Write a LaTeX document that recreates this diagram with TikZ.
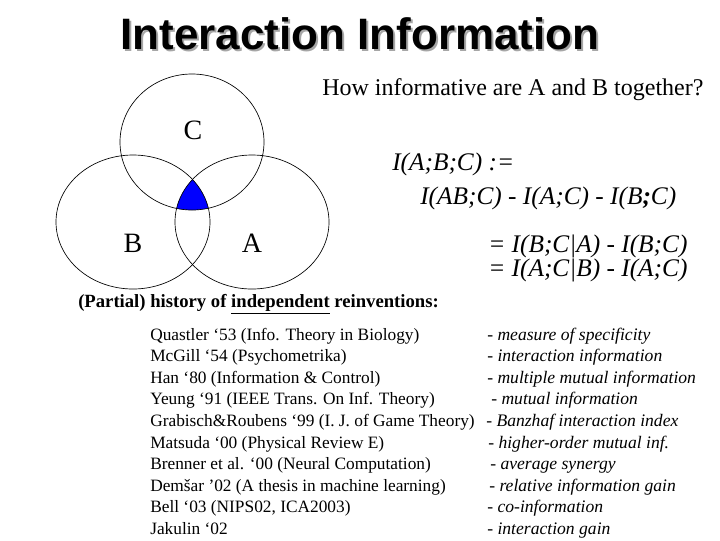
\documentclass[tikz,border=0pt]{standalone}
\usepackage{fontspec}
\setmainfont{Liberation Serif}
\newfontfamily\titlefont{Liberation Sans}
\begin{document}
\begin{tikzpicture}[x=0.75pt,y=-0.75pt,
  venn/.style={draw=black,line width=0.5pt},
  lbl/.style={font=\fontsize{21}{23}\selectfont,inner sep=0},
  eq/.style={font=\fontsize{19}{22}\selectfont\itshape,anchor=base west,inner sep=0},
  lft/.style={font=\fontsize{13}{15}\selectfont,anchor=base west,inner sep=0},
  rgt/.style={font=\fontsize{13.2}{15}\selectfont\itshape,anchor=base west,inner sep=0}]
\useasboundingbox (0,0) rectangle (720,540);
\fill[white] (0,0) rectangle (720,540);
% title
\node[font=\titlefont\bfseries\fontsize{33}{36}\selectfont,text=gray!70,inner sep=0] at (362,36) {Interaction Information};
\node[font=\titlefont\bfseries\fontsize{33}{36}\selectfont,inner sep=0] (title) at (360,34) {Interaction Information};
% venn
\begin{scope}
\clip (192,142) ellipse [x radius=72,y radius=68];
\clip (133,222) ellipse [x radius=77,y radius=67];
\fill[blue] (252,222) ellipse [x radius=77,y radius=67];
\end{scope}
\draw[venn] (192,142) ellipse [x radius=72,y radius=68];
\draw[venn] (133,222) ellipse [x radius=77,y radius=67];
\draw[venn] (252,222) ellipse [x radius=77,y radius=67];
\node[lbl] (C) at (193,130) {C};
\node[lbl] (B) at (133,243) {B};
\node[lbl] (A) at (252,243) {A};
% formulas
\node[font=\fontsize{18}{20}\selectfont,anchor=base west,inner sep=0] (q) at (322,95) {How informative are A and B together?};
\node[eq] (e1) at (392,170) {I(A;B;C) :=};
\node[eq] (e2) at (420,204) {I(AB;C) - I(A;C) - I(B\textbf{;}C)};
\node[eq] (e3) at (488,252) {= I(B;C|A) - I(B;C)};
\node[eq] (e4) at (488,276) {= I(A;C|B) - I(A;C)};
% list
\node[lft,font=\fontsize{14}{16}\selectfont\bfseries] (h) at (78,307) {(Partial) history of \underline{independent} reinventions:};
\foreach \l/\r/\rx [count=\i] in {
 {Quastler `53 (Info. Theory in Biology)}/{measure of specificity}/487,
 {McGill `54 (Psychometrika)}/{interaction information}/487,
 {Han `80 (Information \& Control)}/{multiple mutual information}/487,
 {Yeung `91 (IEEE Trans. On Inf. Theory)}/{mutual information}/491,
 {Grabisch\&Roubens `99 (I. J. of Game Theory)}/{Banzhaf interaction index}/486,
 {Matsuda `00 (Physical Review E)}/{higher-order mutual inf.}/488,
 {Brenner et al. `00 (Neural Computation)}/{average synergy}/490,
 {Demšar '02 (A thesis in machine learning)}/{relative information gain}/489,
 {Bell `03 (NIPS02, ICA2003)}/{co-information}/487,
 {Jakulin `02}/{interaction gain}/487}{
  \node[lft] (l\i) at (150,{340+21.6*(\i-1)}) {\l};
  \node[rgt] (r\i) at (\rx,{340+21.6*(\i-1)}) {\upshape-\ \itshape\r};
}
\end{tikzpicture}
\end{document}
